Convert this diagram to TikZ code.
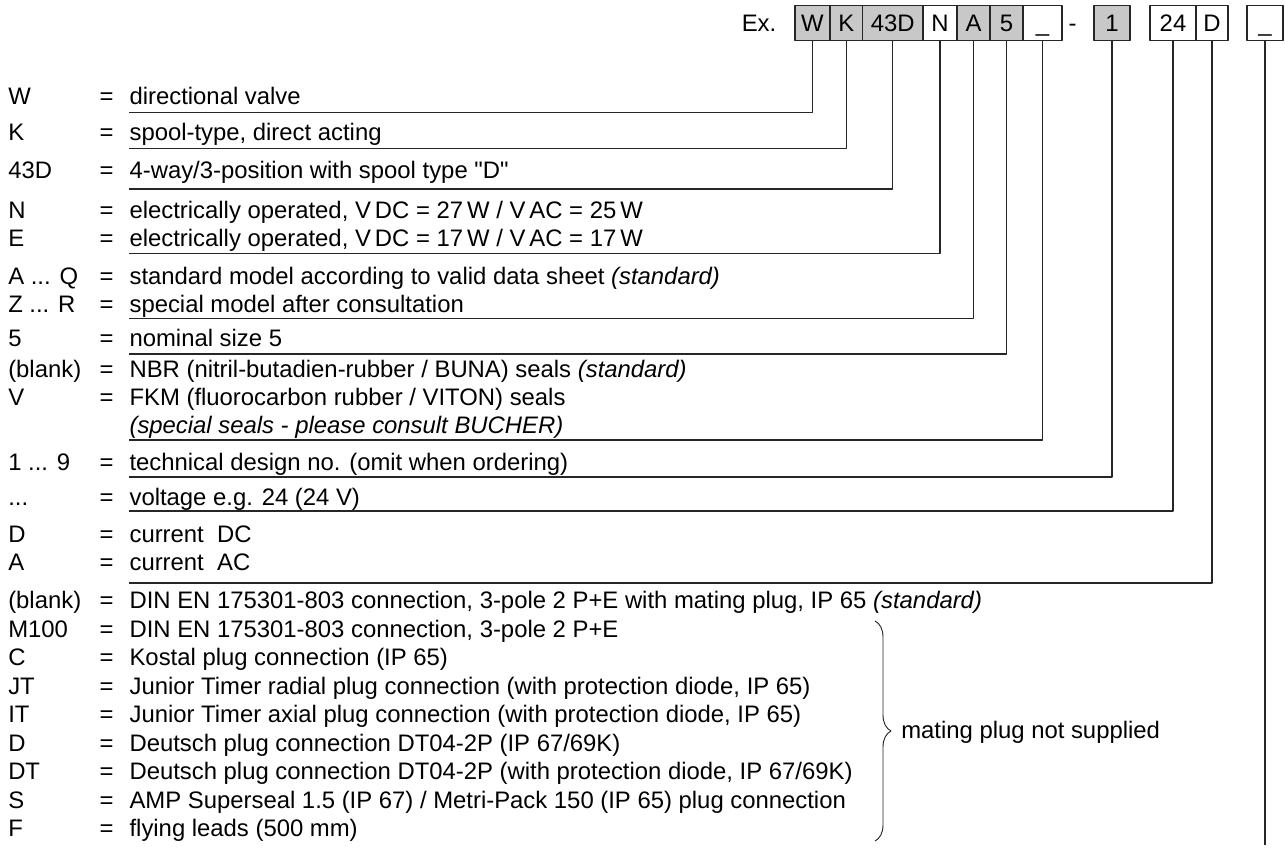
\documentclass[tikz,border=0pt]{standalone}
\usepackage{fontspec}
\setmainfont{Liberation Sans}
\usetikzlibrary{decorations.pathreplacing}
\definecolor{boxgray}{RGB}{200,200,200}
\newcommand\tdots{...}
\begin{document}
\begin{tikzpicture}[x=0.75pt,y=-0.75pt,line join=round,
	font=\fontsize{17.9}{20}\selectfont,
	every node/.style={inner sep=0pt},
	cell/.style={draw=black!85,line width=0.9pt,minimum height=26.25pt,text height=12.8pt,text depth=0pt},
	conn/.style={black!85,line width=0.9pt},
	lab/.style={anchor=base west},
	eq/.style={anchor=base},
	desc/.style={anchor=base west}]
	\useasboundingbox (0,0) rectangle (1285,847);
	% code boxes
	\node[anchor=base] (ex) at (759,31.75) {Ex.};
	\foreach \nm/\txt/\l/\r/\c in {W/W/795/830/boxgray,K/K/830/862.5/boxgray,43D/43D/862.5/923/boxgray,N/N/923/957/white,A/A/957/990/boxgray,5/5/990/1023/boxgray,S/\_/1023/1062/white,1/1/1094/1130/boxgray,24/24/1150/1196/white,D/D/1196/1228/white,P/\_/1247/1283/white}
	\node[cell,fill=\c,minimum width={(\r-\l)*0.75pt}] (b\nm) at ({(\l+\r)/2},23.25) {\txt};
	\node[anchor=base] (dash) at (1072.5,31.75) {-};
	% key lines
	\foreach \lab/\yy/\txt [count=\i] in {W/104.3/{directional valve},K/140.8/{spool-type, direct acting},43D/178.5/{4-way/3-position with spool type \textquotedbl D\textquotedbl},N/218.5/{electrically operated, V\,DC = 27\,W / V\,AC = 25\,W},E/246.5/{electrically operated, V\,DC = 17\,W / V\,AC = 17\,W},{A \tdots{} Q}/284/{standard model according to valid data sheet \textit{(standard)}},{Z \tdots{} R}/312/{special model after consultation},5/346.5/{nominal size 5},(blank)/377/{NBR (nitril-butadien-rubber / BUNA) seals \textit{(standard)}},V/405/{FKM (fluorocarbon rubber / VITON) seals},{1 \tdots{} 9}/470/{technical design no. (omit when ordering)},{\tdots}/505.5/{voltage e.g. 24 (24 V)},D/542/{current\ \ DC},A/570/{current\ \ AC},(blank)/608.5/{DIN EN 175301-803 connection, 3-pole 2 P+E with mating plug, IP 65 \textit{(standard)}},M100/637/{DIN EN 175301-803 connection, 3-pole 2 P+E},C/665.5/{Kostal plug connection (IP 65)},JT/694/{Junior Timer radial plug connection (with protection diode, IP 65)},IT/722.5/{Junior Timer axial plug connection (with protection diode, IP 65)},D/751/{Deutsch plug connection DT04-2P (IP 67/69K)},DT/779.5/{Deutsch plug connection DT04-2P (with protection diode, IP 67/69K)},S/808/{AMP Superseal 1.5 (IP 67) / Metri-Pack 150 (IP 65) plug connection},F/836.5/{flying leads (500 mm)}}
	{\node[lab] (l\i) at (8,\yy) {\lab};
	\node[eq] (e\i) at (106.5,\yy) {=};
	\node[desc] (d\i) at (129.3,\yy) {\txt};}
	\node[desc] (dSeal) at (129.3,433) {\textit{(special seals - please consult BUCHER)}};
	% underlines up to the boxes
	\foreach \nm/\yy in {W/112.3,K/148.3,43D/189,N/253.3,A/318.5,5/354,S/440,1/477,24/511,D/583}
	{\coordinate (u\nm) at (129.3,\yy);
	\draw[conn] (b\nm.south) |- (u\nm);}
	\coordinate (uP) at (1265,845);
	\draw[conn] (bP.south) -- (uP);
	% brace
	\coordinate (brT) at (875,621);
	\coordinate (brB) at (875,841);
	\draw[black!85,line width=0.7pt,decorate,decoration={brace,amplitude=12pt}] (brT) -- (brB);
	\node[anchor=base west] (mating) at (901,738.5) {mating plug not supplied};
\end{tikzpicture}
\end{document}
